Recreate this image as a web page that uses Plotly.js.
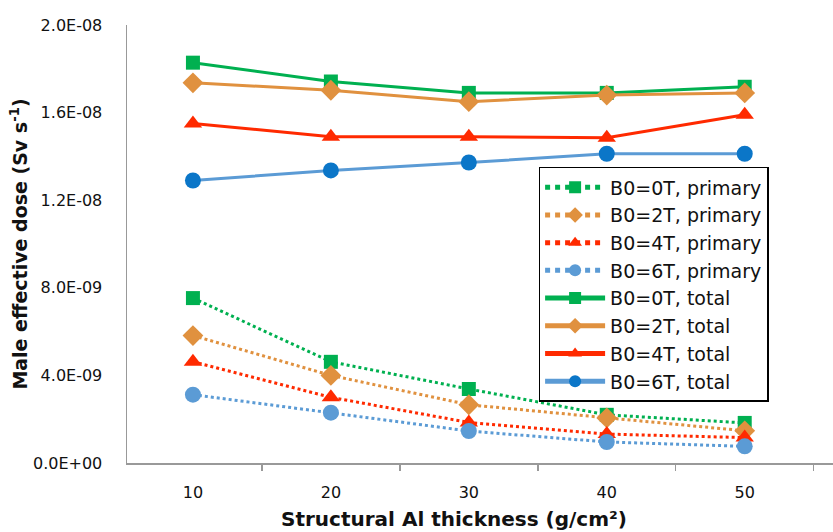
<!DOCTYPE html>
<html>
<head>
<meta charset="utf-8">
<script src="https://cdn.plot.ly/plotly-3.0.1.min.js"></script>
<style>html,body{margin:0;padding:0;background:#fff;}#chart{width:833px;height:532px;}</style>
</head>
<body>
<div id="chart"></div>
<script>
// Data
var thickness = [10, 20, 30, 40, 50];

var primary_B0_0T = [7.53e-9, 4.62e-9, 3.38e-9, 2.20e-9, 1.83e-9];
var primary_B0_2T = [5.82e-9, 4.00e-9, 2.66e-9, 2.06e-9, 1.47e-9];
var primary_B0_4T = [4.62e-9, 3.00e-9, 1.85e-9, 1.32e-9, 1.16e-9];
var primary_B0_6T = [3.12e-9, 2.30e-9, 1.46e-9, 0.96e-9, 0.76e-9];

var total_B0_0T = [18.28e-9, 17.42e-9, 16.90e-9, 16.90e-9, 17.18e-9];
var total_B0_2T = [17.36e-9, 17.02e-9, 16.50e-9, 16.80e-9, 16.90e-9];
var total_B0_4T = [15.50e-9, 14.90e-9, 14.90e-9, 14.85e-9, 15.90e-9];
var total_B0_6T = [12.90e-9, 13.36e-9, 13.72e-9, 14.12e-9, 14.12e-9];

var seriesNames = ["B0=0T, primary", "B0=2T, primary", "B0=4T, primary", "B0=6T, primary",
                   "B0=0T, total", "B0=2T, total", "B0=4T, total", "B0=6T, total"];

var xTickText = ["10", "20", "30", "40", "50"];
var yTickVals = [0, 4e-9, 8e-9, 1.2e-8, 1.6e-8, 2.0e-8];
var yTickText = ["0.0E+00", "4.0E-09", "8.0E-09", "1.2E-08", "1.6E-08", "2.0E-08"];

var green = "#00B050", orange = "#E0913F", red = "#FF2A00", blue = "#5B9BD5", darkBlue = "#0B76C8";

function tr(y, name, color, markerColor, symbol, size, dash, grp) {
  return {
    x: thickness, y: y, name: name, type: "scatter", mode: "lines+markers",
    legendgroup: grp,
    line: {color: color, width: 3, dash: dash},
    marker: {color: markerColor, symbol: symbol, size: size, line: {width: 0}}
  };
}

var data = [
  tr(primary_B0_0T, seriesNames[0], green, green, "square", 14, "dot", "a"),
  tr(primary_B0_2T, seriesNames[1], orange, orange, "diamond", 16, "dot", "b"),
  tr(primary_B0_4T, seriesNames[2], red, red, "triangle-up", 16, "dot", "c"),
  tr(primary_B0_6T, seriesNames[3], blue, blue, "circle", 16, "dot", "d"),
  tr(total_B0_0T, seriesNames[4], green, green, "square", 14, "solid", "e"),
  tr(total_B0_2T, seriesNames[5], orange, orange, "diamond", 16, "solid", "f"),
  tr(total_B0_4T, seriesNames[6], red, red, "triangle-up", 16, "solid", "g"),
  tr(total_B0_6T, seriesNames[7], blue, darkBlue, "circle", 16, "solid", "h")
];

var layout = {
  width: 833, height: 532,
  margin: {l: 127, r: 0, t: 25, b: 69},
  paper_bgcolor: "#fff", plot_bgcolor: "#fff",
  font: {family: "DejaVu Sans, Verdana, sans-serif", size: 16, color: "#111"},
  showlegend: true,
  legend: {
    x: 0.583, y: 0.676, xanchor: "left", yanchor: "top",
    bgcolor: "#fff", bordercolor: "#000", borderwidth: 1.5,
    font: {size: 19, color: "#111"},
    itemwidth: 60, itemsizing: "constant", tracegroupgap: 0
  },
  xaxis: {
    range: [5.22, 56.4], tickvals: thickness, ticktext: xTickText,
    ticks: "", showgrid: false, zeroline: false,
    showline: true, linecolor: "#999", linewidth: 1.5,
    minor: {tickvals: [15, 25, 35, 45, 55], ticks: "outside", ticklen: 6, tickcolor: "#999", tickwidth: 1.5, showgrid: false},
    tickfont: {size: 16},
    ticklabelstandoff: 14
  },
  yaxis: {
    range: [0, 2.0e-8], tickvals: yTickVals, ticktext: yTickText,
    ticks: "", showgrid: false, zeroline: false,
    showline: true, linecolor: "#999", linewidth: 1.5,
    ticklabelstandoff: 20,
    tickfont: {size: 16},
    title: {text: "<b>Male effective dose (Sv s<sup>-1</sup>)</b>", font: {size: 19}, standoff: 0}
  },
  annotations: [{
    text: "<b>Structural Al thickness (g/cm²)</b>", xref: "paper", yref: "paper",
    x: 0.463, y: 0, yshift: -56, xanchor: "center", yanchor: "middle",
    showarrow: false, font: {size: 20, color: "#111"}
  }]
};

Plotly.newPlot("chart", data, layout, {displayModeBar: false, staticPlot: true});
</script>
</body>
</html>
